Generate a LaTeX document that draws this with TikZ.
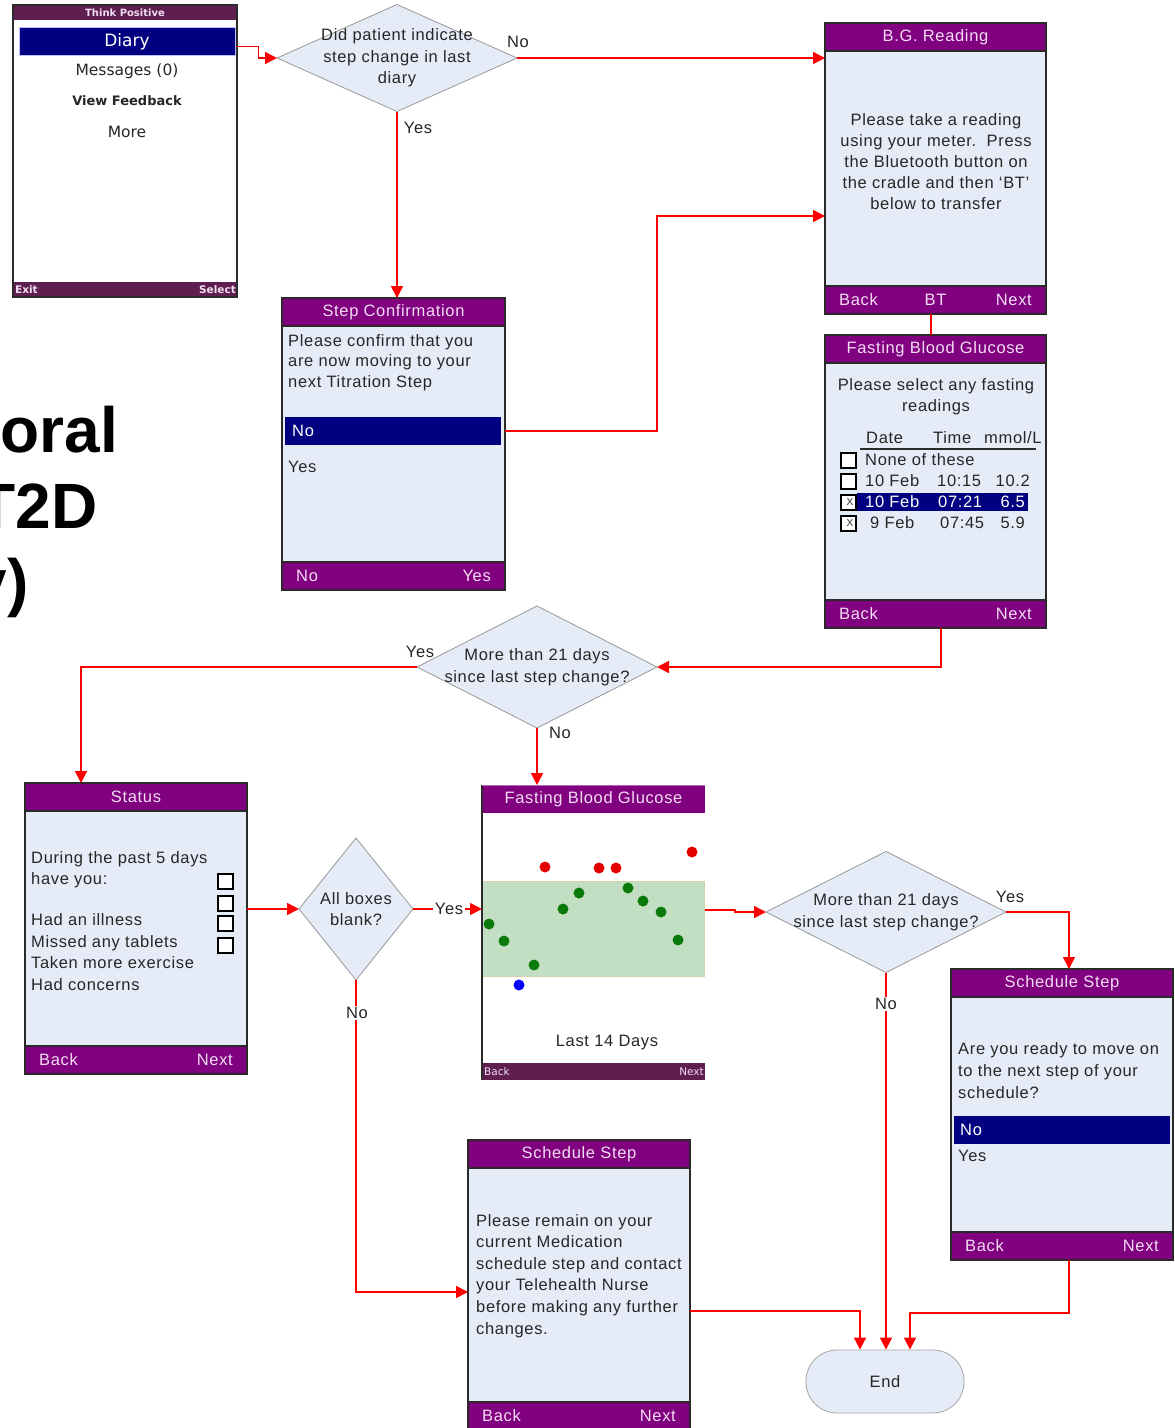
\documentclass[tikz,border=0pt]{standalone}
\usepackage{fontspec}
\setmainfont{Liberation Sans}[LetterSpace=4]
\newfontfamily\bigf{Liberation Sans}
\newfontfamily\dvs{DejaVu Sans}
\usetikzlibrary{arrows.meta,shapes.geometric,calc}
\definecolor{purp}{HTML}{800080}
\definecolor{dpurp}{HTML}{5E1F50}
\definecolor{navy}{HTML}{000080}
\definecolor{scr}{HTML}{E6ECF7}
\definecolor{frame}{HTML}{2A2A2A}
\definecolor{ttl}{HTML}{F3DDF3}
\definecolor{txt}{HTML}{262626}
\definecolor{band}{HTML}{C3DFC3}
\definecolor{bandb}{HTML}{D6D0A8}
\definecolor{dotg}{HTML}{0A7A0A}
\newcommand\scr[9]{%
  \node[screen, minimum width=#4pt, minimum height=#5pt] (#1) at (#2,#3) {};
  \fill[purp] (#2,#3) rectangle ++(#4,28);
  \fill[purp] (#2,#3+#5-28) rectangle ++(#4,28);
  \draw[frame, line width=1.4pt] (#2,#3+28) -- ++(#4,0) (#2,#3+#5-28) -- ++(#4,0);
  \draw[frame, line width=1.6pt] (#2,#3) rectangle ++(#4,#5);
  \node[ttext] at (#2+#4/2,#3+14) {#6};
  \node[ttext, anchor=west] at (#2+14,#3+#5-14) {#7};
  \node[ttext] at (#2+#4/2,#3+#5-14) {#8};
  \node[ttext, anchor=east] at (#2+#4-14,#3+#5-14) {#9};
}
\begin{document}
\begin{tikzpicture}[x=1pt,y=-1pt,
  screen/.style={draw=frame, line width=1.6pt, fill=scr, anchor=north west, inner sep=0, outer sep=0},
  ttext/.style={inner sep=0, text=ttl, font=\fontsize{16.5}{20}\selectfont},
  btext/.style={inner sep=0, text=txt, font=\fontsize{16.5}{21}\selectfont},
  lab/.style={inner sep=1.5pt, text=txt, font=\fontsize{16.5}{20}\selectfont},
  dia/.style={diamond, draw=gray!80, fill=scr, inner sep=0, outer sep=0, line width=0.8pt},
  dtext/.style={inner sep=0, text=txt, align=center, font=\fontsize{16.5}{21.5}\selectfont},
  conn/.style={draw=red, line width=1.5pt, -{Triangle[length=12pt,width=12pt]}},
  plain/.style={draw=red, line width=1.5pt},
  navybar/.style={fill=navy, inner sep=0, outer sep=0, anchor=north west},
  cbox/.style={draw=black, fill=white, line width=1.2pt},
  dot/.style={circle, inner sep=0, minimum size=11pt}
]
\useasboundingbox (0,0) rectangle (1175,1428);
\fill[white] (0,0) rectangle (1175,1428);

% ---------- left title fragments ----------
\node[anchor=base east, inner sep=0, font=\bigf\fontsize{64}{64}\selectfont\bfseries] (t1) at (118,452) {oral};
\node[anchor=base east, inner sep=0, font=\bigf\fontsize{64}{64}\selectfont\bfseries] (t2) at (98,528) {T2D};
\node[anchor=base east, inner sep=0, font=\bigf\fontsize{64}{64}\selectfont\bfseries] (t3) at (29,604) {y)};

% ---------- Think Positive phone ----------
\node[draw=frame, line width=1.4pt, fill=white, minimum width=224pt, minimum height=292pt, anchor=north west, inner sep=0] (tp) at (13,5) {};
\fill[dpurp] (13,5) rectangle (237,20);
\fill[dpurp] (13,282) rectangle (237,297);
\node[inner sep=0, text=ttl, font=\dvs\fontsize{10}{10}\selectfont\bfseries] (tptitle) at (125,12.5) {Think Positive};
\node[fill=navy, draw=blue!25, line width=1pt, minimum width=216pt, minimum height=28pt, inner sep=0, text=white, font=\dvs\fontsize{17}{18}\selectfont] (diaryBar) at (127,41.5) {Diary};
\node[inner sep=0, text=txt, font=\dvs\fontsize{15.5}{18}\selectfont] (msg) at (127,71) {Messages (0)};
\node[inner sep=0, text=txt, font=\dvs\fontsize{13}{16}\selectfont\bfseries] (vf) at (127,101) {View Feedback};
\node[inner sep=0, text=txt, font=\dvs\fontsize{15.5}{18}\selectfont] (more) at (127,132) {More};
\node[inner sep=0, anchor=west, text=ttl, font=\dvs\fontsize{10.5}{12}\selectfont\bfseries] (exit) at (15,289.5) {Exit};
\node[inner sep=0, anchor=east, text=ttl, font=\dvs\fontsize{10.5}{12}\selectfont\bfseries] (sel) at (236,289.5) {Select};
\draw[frame, line width=1.4pt] (13,5) rectangle (237,297);

% ---------- diamond 1 ----------
\node[dia, minimum width=240pt, minimum height=107pt] (d1) at (397,58) {};
\node[dtext] at (397,58) {Did patient indicate\\step change in last\\diary};

% ---------- B.G. Reading ----------
\scr{bg}{825}{23}{221}{291}{B.G. Reading}{Back}{BT}{Next}
\node[btext, align=center, anchor=north, font=\fontsize{16.5}{21.2}\selectfont] at (936,113) {Please take a reading\\using your meter.\ \ Press\\the Bluetooth button on\\the cradle and then ‘BT’\\below to transfer};

% ---------- Step Confirmation ----------
\scr{sc}{282}{298}{223}{292}{Step Confirmation}{No}{}{Yes}
\node[btext, align=left, anchor=north west, font=\fontsize{16.5}{20.5}\selectfont] at (288,334) {Please confirm that you\\are now moving to your\\next Titration Step};
\node[navybar, minimum width=216pt, minimum height=28pt] (scNo) at (285,417) {};
\node[btext, text=white, anchor=west] at (292,431) {No};
\node[btext, anchor=west] at (288,467) {Yes};

% ---------- Fasting Blood Glucose list ----------
\scr{fbg}{825}{335}{221}{293}{Fasting Blood Glucose}{Back}{}{Next}
\node[btext, align=center, anchor=north] at (936,378) {Please select any fasting\\readings};
\node[btext, anchor=base west] at (866,443.5) {Date};
\node[btext, anchor=base west] at (933,443.5) {Time};
\node[btext, anchor=base west] at (984,443.5) {mmol/L};
\draw[frame, line width=1.2pt] (860,449) -- (1036,449);
\fill[navy] (857,493) rectangle (1028,511);
\foreach \yy in {453,474,495,516} {\draw[cbox] (841,\yy) rectangle ++(15,15);}
\node[inner sep=0, text=txt, font=\fontsize{10}{10}\selectfont] at (850,502.5) {X};
\node[inner sep=0, text=txt, font=\fontsize{10}{10}\selectfont] at (850,523.5) {X};
\node[btext, anchor=base west] at (865,465.5) {None of these};
\node[btext, anchor=base west] at (865,486.5) {10 Feb};
\node[btext, anchor=base west] at (937,486.5) {10:15};
\node[btext, anchor=base east] at (1030,486.5) {10.2};
\node[btext, text=white, anchor=base west] at (865,507.5) {10 Feb};
\node[btext, text=white, anchor=base west] at (938,507.5) {07:21};
\node[btext, text=white, anchor=base east] at (1025,507.5) {6.5};
\node[btext, anchor=base west] at (870,528.5) {9 Feb};
\node[btext, anchor=base west] at (940,528.5) {07:45};
\node[btext, anchor=base east] at (1025,528.5) {5.9};

% ---------- diamond 2 ----------
\node[dia, minimum width=240pt, minimum height=122pt] (d2) at (537,667) {};
\node[dtext] at (537,667) {More than 21 days\\since last step change?};

% ---------- Status ----------
\scr{status}{25}{783}{222}{291}{Status}{Back}{}{Next}
\node[btext, align=left, anchor=north west, font=\fontsize{16.5}{21.7}\selectfont] at (31,851) {During the past 5 days\\have you:\\[19pt]Had an illness\\Missed any tablets\\Taken more exercise\\Had concerns};
\foreach \yy in {874,896,916,938} {\draw[cbox] (218,\yy) rectangle ++(15,15);}

% ---------- diamond 3 ----------
\node[dia, minimum width=114pt, minimum height=142pt] (d3) at (356,909) {};
\node[dtext] at (356,909) {All boxes\\blank?};

% ---------- chart ----------
\node[fill=white, minimum width=223pt, minimum height=295pt, anchor=north west, inner sep=0, outer sep=0] (chart) at (482,785) {};
\fill[band] (482,881) rectangle (704,976);
\draw[bandb, line width=0.8pt] (482,881) rectangle (704,976);
\fill[purp] (482,785) rectangle (705,813);
\node[ttext] at (593.5,799) {Fasting Blood Glucose};
\fill[dpurp] (482,1063) rectangle (705,1080);
\node[inner sep=0, anchor=west, text=ttl, font=\dvs\fontsize{10.5}{12}\selectfont] at (484,1072) {Back};
\node[inner sep=0, anchor=east, text=ttl, font=\dvs\fontsize{10.5}{12}\selectfont] at (704,1072) {Next};
\draw[frame, line width=1.6pt] (482,785) -- (482,1080);
\draw[purp!60, line width=0.8pt] (482,785) -- (705,785);
\node[btext] at (607,1043) {Last 14 Days};
\foreach \px/\py in {545/867,599/868,616/868,692/852} {\node[dot, fill=red!90!black] at (\px,\py) {};}
\foreach \px/\py in {489/924,504/941,534/965,563/909,579/893,628/888,643/901,661/912,678/940} {\node[dot, fill=dotg] at (\px,\py) {};}
\node[dot, fill=blue] at (519,985) {};

% ---------- diamond 4 ----------
\node[dia, minimum width=240pt, minimum height=121pt] (d4) at (886,912) {};
\node[dtext] at (886,912) {More than 21 days\\since last step change?};

% ---------- Schedule Step (right) ----------
\scr{ssa}{951}{969}{222}{291}{Schedule Step}{Back}{}{Next}
\node[btext, align=left, anchor=north west, font=\fontsize{16.5}{22}\selectfont] at (958,1042) {Are you ready to move on\\to the next step of your\\schedule?};
\node[navybar, minimum width=216pt, minimum height=28pt] (ssaNo) at (954,1116) {};
\node[btext, text=white, anchor=west] at (960,1130) {No};
\node[btext, anchor=west] at (958,1156) {Yes};

% ---------- Schedule Step (bottom) ----------
\scr{ssb}{468}{1140}{222}{290}{Schedule Step}{Back}{}{Next}
\node[btext, align=left, anchor=north west, font=\fontsize{16.5}{21.6}\selectfont] at (476,1214) {Please remain on your\\current Medication\\schedule step and contact\\your Telehealth Nurse\\before making any further\\changes.};

% ---------- End ----------
\node[draw=gray!70, fill=scr, rounded corners=31pt, minimum width=158pt, minimum height=63pt, inner sep=0, line width=0.8pt, text=txt, font=\fontsize{16.5}{20}\selectfont] (end) at (885,1381.5) {End};

% ---------- connectors ----------
\draw[conn] ([yshift=-5pt]diaryBar.east) -- ++(23,0) |- (d1.west);
\draw[conn] (d1.east) -- (bg.west |- d1.east);
\node[lab] at (518,42) {No};
\draw[conn] (d1.south) -- (d1.south |- sc.north);
\node[lab] at (418,128) {Yes};
\draw[conn] (sc.east |- scNo.east) -- (657,431) |- ($(bg.north west)+(0,193)$);
\draw[plain] ([xshift=-4.5pt]bg.south) -- ([xshift=-4.5pt]fbg.north);
\draw[conn] ([xshift=5.5pt]fbg.south) |- (d2.east);
\draw[conn] (d2.west) -| ($(status.north west)+(56,0)$);
\node[lab] at (420,652) {Yes};
\draw[conn] (d2.south) -- (d2.south |- chart.north);
\node[lab, fill=white] at (560,733) {No};
\draw[conn] (status.east |- d3.west) -- (d3.west);
\draw[conn] (d3.east) -- (chart.west |- d3.east);
\node[lab, fill=white] at (449,909) {Yes};
\draw[conn] (d3.south) |- ($(ssb.north west)+(0,152)$);
\node[lab, fill=white] at (357,1013) {No};
\draw[conn] (chart.east |- 0,910) -- (735,910) -- (735,912) -- (d4.west);
\draw[conn] (d4.east) -| ([xshift=7pt]ssa.north);
\node[lab] at (1010,897) {Yes};
\draw[conn] (d4.south) -- (d4.south |- end.north);
\node[lab, fill=white] at (886,1004) {No};
\draw[conn] ([xshift=7pt]ssa.south) -- ++(0,53) -| ([xshift=25pt]end.north);
\draw[conn] (ssb.east |- 0,1311) -| ([xshift=-25pt]end.north);
\end{tikzpicture}
\end{document}
